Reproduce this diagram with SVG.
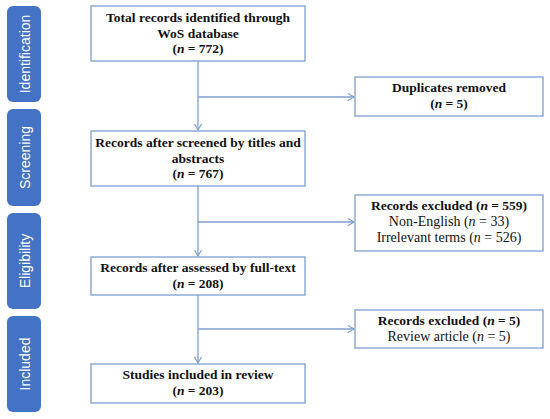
<svg xmlns="http://www.w3.org/2000/svg" width="550" height="419" viewBox="0 0 550 419">
<style>
.pill{fill:#4472C4;}
.ptxt{fill:#fff;font-family:"Liberation Sans",Arial,sans-serif;font-size:14px;text-anchor:middle;}
.box{fill:#fff;stroke:#7f9fcf;stroke-width:1.3;}
.t{font-family:"Liberation Serif","DejaVu Serif",serif;font-size:13.5px;text-anchor:middle;fill:#111;}
.r{font-size:14px;}
.b{font-weight:bold;}
.i{font-style:italic;}
.ln{fill:none;stroke:#7f9fcf;stroke-width:1.3;}
</style>
<defs>
<marker id="ah" markerWidth="10" markerHeight="10" refX="7" refY="4" orient="auto" markerUnits="userSpaceOnUse">
<polyline points="1,0.5 7,4 1,7.5" fill="none" stroke="#7f9fcf" stroke-width="1.2"/>
</marker>
</defs>
<rect width="550" height="419" fill="#fff"/>
<g id="phase-identification"><rect class="pill" x="7" y="6" width="34" height="96" rx="6"/><text class="ptxt" transform="translate(29.5,54) rotate(-90)">Identification</text></g>
<g id="phase-screening"><rect class="pill" x="7" y="109" width="34" height="97" rx="6"/><text class="ptxt" transform="translate(29.5,157.5) rotate(-90)">Screening</text></g>
<g id="phase-eligibility"><rect class="pill" x="7" y="213" width="34" height="96" rx="6"/><text class="ptxt" transform="translate(29.5,261) rotate(-90)">Eligibility</text></g>
<g id="phase-included"><rect class="pill" x="7" y="316" width="34" height="96" rx="6"/><text class="ptxt" transform="translate(29.5,364) rotate(-90)">Included</text></g>
<g id="connectors">
<line class="ln" x1="198" y1="61" x2="198" y2="130" marker-end="url(#ah)"/>
<line class="ln" x1="198" y1="97" x2="354" y2="97" marker-end="url(#ah)"/>
<line class="ln" x1="198" y1="186" x2="198" y2="256" marker-end="url(#ah)"/>
<line class="ln" x1="198" y1="222" x2="354" y2="222" marker-end="url(#ah)"/>
<line class="ln" x1="198" y1="295" x2="198" y2="363" marker-end="url(#ah)"/>
<line class="ln" x1="198" y1="329" x2="354" y2="329" marker-end="url(#ah)"/>
</g>
<g id="n-total"><rect class="box" x="91" y="6" width="214" height="55"/>
<text class="t b" x="198" y="22">Total records identified through</text>
<text class="t b" x="198" y="37.5">WoS database</text>
<text class="t b" x="198" y="53">(<tspan class="i">n</tspan> = 772)</text></g>
<g id="n-duplicates"><rect class="box" x="355" y="77" width="188" height="39"/>
<text class="t b" x="449" y="92">Duplicates removed</text>
<text class="t b" x="449" y="108">(<tspan class="i">n</tspan> = 5)</text></g>
<g id="n-screened"><rect class="box" x="91" y="131" width="214" height="55"/>
<text class="t b" x="198" y="147">Records after screened by titles and</text>
<text class="t b" x="198" y="162.5">abstracts</text>
<text class="t b" x="198" y="178">(<tspan class="i">n</tspan> = 767)</text></g>
<g id="n-excluded1"><rect class="box" x="355" y="195" width="188" height="56"/>
<text class="t b" x="449" y="210">Records excluded (<tspan class="i">n</tspan> = 559)</text>
<text class="t r" x="449" y="226">Non-English (<tspan class="i">n</tspan> = 33)</text>
<text class="t r" x="449" y="242">Irrelevant terms (<tspan class="i">n</tspan> = 526)</text></g>
<g id="n-fulltext"><rect class="box" x="91" y="257" width="214" height="38"/>
<text class="t b" x="198" y="272">Records after assessed by full-text</text>
<text class="t b" x="198" y="288">(<tspan class="i">n</tspan> = 208)</text></g>
<g id="n-excluded2"><rect class="box" x="355" y="310" width="188" height="38"/>
<text class="t b" x="449" y="325">Records excluded (<tspan class="i">n</tspan> = 5)</text>
<text class="t r" x="449" y="341">Review article (<tspan class="i">n</tspan> = 5)</text></g>
<g id="n-included"><rect class="box" x="91" y="364" width="214" height="39"/>
<text class="t b" x="198" y="379">Studies included in review</text>
<text class="t b" x="198" y="395">(<tspan class="i">n</tspan> = 203)</text></g>
</svg>
